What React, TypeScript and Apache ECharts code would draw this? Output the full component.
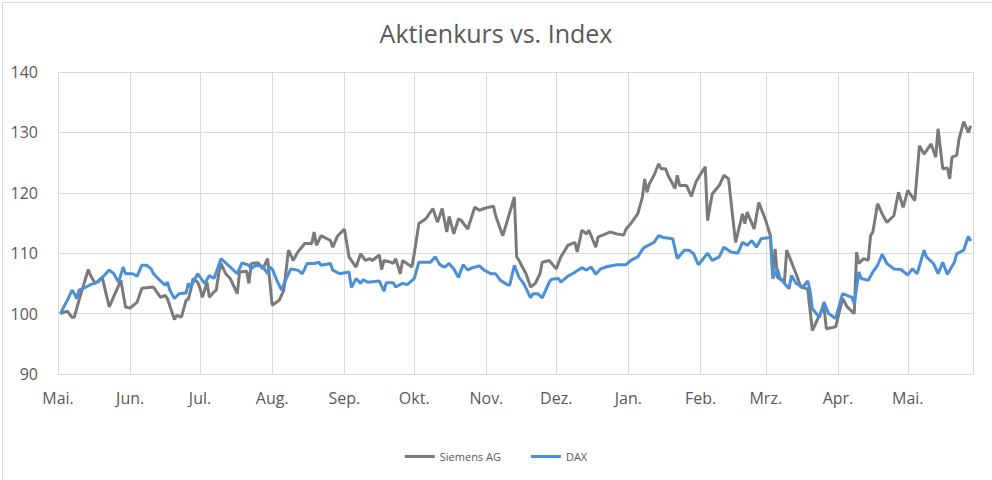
import React, { useEffect, useRef } from "react";
import * as echarts from "echarts";

const chartTitle = "Aktienkurs vs. Index";
const seriesNames = ["Siemens AG", "DAX"];
const monthLabels = ["Jan.", "Feb.", "Mrz.", "Apr.", "Mai.", "Jun.", "Jul.", "Aug.", "Sep.", "Okt.", "Nov.", "Dez."];
const xMin = "2018-05-01";
const xMax = "2019-05-29";
const yMin = 90;
const yMax = 140;
const yStep = 10;

const siemensDates = [
  "2018-05-02", "2018-05-05", "2018-05-07", "2018-05-08", "2018-05-10", "2018-05-14", "2018-05-15", "2018-05-17", "2018-05-20", "2018-05-23",
  "2018-05-28", "2018-05-30", "2018-06-01", "2018-06-04", "2018-06-06", "2018-06-11", "2018-06-14", "2018-06-16", "2018-06-17", "2018-06-20",
  "2018-06-21", "2018-06-23", "2018-06-25", "2018-06-26", "2018-06-27", "2018-06-28", "2018-06-30", "2018-07-01", "2018-07-02", "2018-07-03",
  "2018-07-04", "2018-07-05", "2018-07-07", "2018-07-08", "2018-07-09", "2018-07-10", "2018-07-12", "2018-07-14", "2018-07-17", "2018-07-18",
  "2018-07-21", "2018-07-22", "2018-07-23", "2018-07-26", "2018-07-28", "2018-07-30", "2018-08-01", "2018-08-04", "2018-08-06", "2018-08-08",
  "2018-08-10", "2018-08-12", "2018-08-15", "2018-08-18", "2018-08-19", "2018-08-20", "2018-08-22", "2018-08-26", "2018-08-27", "2018-08-29",
  "2018-09-01", "2018-09-03", "2018-09-04", "2018-09-06", "2018-09-08", "2018-09-10", "2018-09-12", "2018-09-13", "2018-09-16", "2018-09-17",
  "2018-09-18", "2018-09-21", "2018-09-22", "2018-09-23", "2018-09-25", "2018-09-26", "2018-09-30", "2018-10-01", "2018-10-03", "2018-10-06",
  "2018-10-09", "2018-10-11", "2018-10-13", "2018-10-15", "2018-10-16", "2018-10-18", "2018-10-20", "2018-10-21", "2018-10-24", "2018-10-27",
  "2018-10-29", "2018-10-31", "2018-11-04", "2018-11-05", "2018-11-08", "2018-11-10", "2018-11-13", "2018-11-14", "2018-11-15", "2018-11-18",
  "2018-11-20", "2018-11-22", "2018-11-24", "2018-11-25", "2018-11-28", "2018-12-01", "2018-12-03", "2018-12-06", "2018-12-09", "2018-12-10",
  "2018-12-12", "2018-12-14", "2018-12-15", "2018-12-18", "2018-12-19", "2018-12-21", "2018-12-24", "2018-12-27", "2018-12-30", "2018-12-31",
  "2019-01-02", "2019-01-05", "2019-01-07", "2019-01-08", "2019-01-09", "2019-01-10", "2019-01-12", "2019-01-14", "2019-01-15", "2019-01-17",
  "2019-01-18", "2019-01-21", "2019-01-22", "2019-01-23", "2019-01-26", "2019-01-28", "2019-01-30", "2019-02-01", "2019-02-03", "2019-02-04",
  "2019-02-06", "2019-02-09", "2019-02-11", "2019-02-13", "2019-02-16", "2019-02-19", "2019-02-20", "2019-02-21", "2019-02-24", "2019-02-26",
  "2019-03-01", "2019-03-03", "2019-03-04", "2019-03-05", "2019-03-06", "2019-03-09", "2019-03-10", "2019-03-14", "2019-03-16", "2019-03-19",
  "2019-03-21", "2019-03-24", "2019-03-26", "2019-03-27", "2019-03-31", "2019-04-03", "2019-04-05", "2019-04-08", "2019-04-09", "2019-04-10",
  "2019-04-12", "2019-04-14", "2019-04-15", "2019-04-16", "2019-04-18", "2019-04-20", "2019-04-22", "2019-04-25", "2019-04-27", "2019-04-29",
  "2019-05-01", "2019-05-04", "2019-05-06", "2019-05-08", "2019-05-11", "2019-05-13", "2019-05-14", "2019-05-16", "2019-05-18", "2019-05-19",
  "2019-05-20", "2019-05-22", "2019-05-23", "2019-05-25", "2019-05-27", "2019-05-28",
];
const siemensValues = [
  100, 100.4, 99.4, 99.4, 102.2, 107.3, 106.3, 105.0, 106.0, 101.1,
  105.5, 101.1, 100.9, 101.9, 104.2, 104.4, 102.7, 103.0, 102.5, 99.0,
  99.7, 99.4, 102.2, 102.4, 103.9, 105.8, 105.2, 104.2, 102.7, 103.9,
  105.2, 102.7, 103.6, 103.9, 106.6, 108.3, 106.6, 105.8, 103.3, 106.9,
  107.0, 105.0, 108.3, 108.4, 107.4, 109.1, 101.4, 102.2, 103.9, 110.5,
  108.8, 110.2, 111.6, 111.6, 113.5, 111.3, 112.9, 112.1, 111.0, 112.8,
  114.0, 109.4, 108.8, 107.7, 109.9, 108.8, 109.1, 108.8, 109.7, 107.3,
  108.8, 108.5, 108.3, 109.1, 106.6, 108.8, 107.7, 109.9, 114.9, 115.7,
  117.4, 115.1, 117.4, 113.5, 116.1, 113.2, 115.7, 115.5, 114.0, 117.6,
  117.1, 117.4, 117.8, 116.2, 112.9, 115.4, 119.3, 109.4, 108.8, 106.6,
  104.4, 105.0, 106.6, 108.5, 108.8, 107.4, 109.4, 111.3, 111.8, 110.2,
  113.8, 113.2, 113.8, 111.0, 112.7, 113.0, 113.5, 113.2, 113.0, 114.0,
  114.9, 116.5, 119.3, 122.3, 120.1, 121.5, 122.9, 124.8, 124.0, 124.0,
  122.9, 120.7, 122.9, 121.2, 121.2, 119.4, 121.8, 123.1, 124.3, 115.4,
  119.8, 121.2, 122.9, 122.3, 111.8, 116.5, 114.9, 116.8, 114.0, 118.4,
  115.4, 112.9, 106.6, 110.7, 106.0, 105.2, 110.5, 106.6, 104.4, 104.1,
  97.2, 99.7, 101.1, 97.5, 97.8, 102.5, 101.1, 100.0, 110.2, 108.3,
  109.1, 108.8, 112.9, 113.5, 118.2, 116.5, 115.1, 116.2, 120.1, 117.6,
  120.4, 118.7, 127.8, 126.4, 128.1, 125.9, 130.6, 124.0, 124.1, 122.3,
  125.9, 126.2, 128.9, 131.8, 130.0, 131.1,
];

const daxDates = [
  "2018-05-02", "2018-05-05", "2018-05-07", "2018-05-08", "2018-05-09", "2018-05-10", "2018-05-13", "2018-05-15", "2018-05-18", "2018-05-19",
  "2018-05-23", "2018-05-25", "2018-05-27", "2018-05-29", "2018-05-30", "2018-06-02", "2018-06-04", "2018-06-06", "2018-06-08", "2018-06-10",
  "2018-06-11", "2018-06-13", "2018-06-16", "2018-06-17", "2018-06-18", "2018-06-20", "2018-06-22", "2018-06-25", "2018-06-26", "2018-06-27",
  "2018-06-30", "2018-07-02", "2018-07-03", "2018-07-05", "2018-07-07", "2018-07-10", "2018-07-14", "2018-07-17", "2018-07-19", "2018-07-22",
  "2018-07-23", "2018-07-25", "2018-07-28", "2018-07-30", "2018-07-31", "2018-08-01", "2018-08-03", "2018-08-05", "2018-08-07", "2018-08-09",
  "2018-08-12", "2018-08-14", "2018-08-16", "2018-08-19", "2018-08-21", "2018-08-22", "2018-08-26", "2018-08-27", "2018-08-30", "2018-09-03",
  "2018-09-04", "2018-09-06", "2018-09-08", "2018-09-09", "2018-09-11", "2018-09-16", "2018-09-18", "2018-09-19", "2018-09-22", "2018-09-23",
  "2018-09-26", "2018-09-28", "2018-10-01", "2018-10-03", "2018-10-08", "2018-10-10", "2018-10-12", "2018-10-14", "2018-10-16", "2018-10-18",
  "2018-10-20", "2018-10-22", "2018-10-24", "2018-10-26", "2018-10-29", "2018-10-31", "2018-11-03", "2018-11-05", "2018-11-07", "2018-11-10",
  "2018-11-11", "2018-11-13", "2018-11-15", "2018-11-17", "2018-11-20", "2018-11-21", "2018-11-23", "2018-11-25", "2018-11-28", "2018-11-29",
  "2018-12-02", "2018-12-03", "2018-12-06", "2018-12-08", "2018-12-12", "2018-12-14", "2018-12-16", "2018-12-18", "2018-12-20", "2018-12-23",
  "2018-12-27", "2018-12-31", "2019-01-02", "2019-01-05", "2019-01-07", "2019-01-08", "2019-01-12", "2019-01-14", "2019-01-16", "2019-01-20",
  "2019-01-22", "2019-01-25", "2019-01-27", "2019-01-29", "2019-01-31", "2019-02-01", "2019-02-04", "2019-02-06", "2019-02-09", "2019-02-11",
  "2019-02-14", "2019-02-17", "2019-02-19", "2019-02-21", "2019-02-23", "2019-02-25", "2019-02-27", "2019-03-03", "2019-03-04", "2019-03-06",
  "2019-03-07", "2019-03-09", "2019-03-11", "2019-03-12", "2019-03-14", "2019-03-17", "2019-03-19", "2019-03-20", "2019-03-21", "2019-03-24",
  "2019-03-26", "2019-03-28", "2019-03-31", "2019-04-03", "2019-04-07", "2019-04-08", "2019-04-10", "2019-04-11", "2019-04-14", "2019-04-16",
  "2019-04-18", "2019-04-20", "2019-04-22", "2019-04-25", "2019-04-28", "2019-05-01", "2019-05-03", "2019-05-05", "2019-05-08", "2019-05-09",
  "2019-05-12", "2019-05-14", "2019-05-16", "2019-05-18", "2019-05-21", "2019-05-22", "2019-05-25", "2019-05-27", "2019-05-28",
];
const daxValues = [
  100, 102.2, 103.9, 103.3, 102.5, 103.9, 104.4, 104.8, 105.2, 105.5,
  107.2, 106.6, 105.2, 107.7, 106.6, 106.6, 106.2, 108.0, 108.0, 107.4,
  106.6, 105.8, 104.7, 105.2, 103.9, 102.5, 103.3, 103.4, 105.0, 104.4,
  106.6, 105.5, 105.0, 106.3, 105.8, 109.1, 107.7, 106.6, 108.4, 108.0,
  107.4, 108.0, 107.8, 106.6, 107.7, 107.4, 105.5, 103.9, 105.8, 107.4,
  107.2, 106.6, 108.3, 108.3, 108.5, 108.0, 108.3, 107.2, 106.6, 106.9,
  104.3, 105.8, 105.0, 105.6, 105.2, 105.4, 103.7, 105.1, 105.1, 104.4,
  105.0, 104.8, 105.8, 108.5, 108.5, 109.4, 108.1, 107.7, 108.3, 107.4,
  106.0, 108.1, 107.2, 107.6, 107.9, 107.2, 106.6, 106.6, 105.5, 104.8,
  104.7, 108.0, 106.0, 105.0, 102.6, 103.3, 103.3, 102.6, 105.2, 105.7,
  105.8, 105.2, 106.2, 106.6, 107.6, 107.2, 107.7, 106.5, 107.4, 107.8,
  108.1, 108.1, 108.8, 109.4, 110.6, 111.0, 111.8, 112.9, 112.6, 112.4,
  109.1, 110.5, 110.5, 109.9, 108.1, 108.5, 110.0, 108.8, 109.4, 111.0,
  110.2, 110.0, 111.8, 111.3, 112.1, 111.0, 112.4, 112.6, 105.8, 107.4,
  106.0, 105.0, 104.1, 106.3, 105.0, 104.4, 105.4, 103.9, 100.8, 99.4,
  101.9, 100.0, 99.2, 103.3, 102.7, 101.6, 106.9, 105.8, 105.5, 106.9,
  108.0, 109.8, 108.3, 107.4, 107.3, 106.4, 107.4, 106.6, 110.5, 109.4,
  108.3, 106.6, 108.5, 106.5, 108.5, 109.9, 110.5, 112.8, 112.0,
];

const textColor = "#595959";
const gridColor = "#d9d9d9";
const seriesColors = ["#7a7a7a", "#4a90d9"];
const fontFamily = "'Open Sans', 'Noto Sans', sans-serif";

export default function App() {
  const ref = useRef<HTMLDivElement>(null);

  useEffect(() => {
    if (!ref.current) return;
    const chart = echarts.init(ref.current, undefined, { renderer: "svg" });
    const option = {
      animation: false,
      backgroundColor: "#ffffff",
      textStyle: { fontFamily },
      title: {
        text: chartTitle,
        left: "center",
        top: 15,
        textStyle: { color: textColor, fontSize: 25, fontWeight: "normal", fontFamily },
      },
      graphic: [
        {
          type: "rect",
          left: 0,
          top: 0,
          shape: { x: 0, y: 0, width: 990, height: 478 },
          style: { fill: "none", stroke: gridColor, lineWidth: 1 },
          silent: true,
          z: -10,
        },
      ],
      legend: {
        bottom: 13,
        left: "center",
        icon: "rect",
        itemWidth: 30,
        itemHeight: 3,
        itemGap: 30,
        textStyle: { color: textColor, fontSize: 11, fontFamily },
        data: seriesNames,
      },
      grid: { left: 58, right: 19, top: 72, bottom: 106, containLabel: false },
      xAxis: {
        type: "time",
        min: xMin,
        max: xMax,
        splitNumber: 13,
        axisLine: { show: true, lineStyle: { color: gridColor, width: 1 } },
        axisTick: { show: false },
        splitLine: { show: true, lineStyle: { color: gridColor, width: 1 } },
        axisLabel: {
          color: textColor,
          fontSize: 16,
          margin: 16,
          fontFamily,
          showMaxLabel: false,
          formatter: (value: number) => {
            const d = new Date(value);
            if (d.getDate() !== 1) return "";
            return monthLabels[d.getMonth()];
          },
        },
      },
      yAxis: {
        type: "value",
        min: yMin,
        max: yMax,
        interval: yStep,
        axisLine: { show: false },
        axisTick: { show: false },
        splitLine: { show: true, lineStyle: { color: gridColor, width: 1 } },
        axisLabel: { color: textColor, fontSize: 16, margin: 20, fontFamily },
      },
      series: [
        {
          name: seriesNames[0],
          type: "line",
          showSymbol: false,
          symbol: "none",
          data: siemensDates.map((d, i) => [d, siemensValues[i]]),
          lineStyle: { color: seriesColors[0], width: 3 },
          itemStyle: { color: seriesColors[0] },
        },
        {
          name: seriesNames[1],
          type: "line",
          showSymbol: false,
          symbol: "none",
          data: daxDates.map((d, i) => [d, daxValues[i]]),
          lineStyle: { color: seriesColors[1], width: 3 },
          itemStyle: { color: seriesColors[1] },
        },
      ],
    };
    chart.setOption(option);
    return () => chart.dispose();
  }, []);

  return (
    <div
      ref={ref}
      style={{ position: "fixed", left: 0, top: 0, width: 992, height: 480 }}
    />
  );
}
